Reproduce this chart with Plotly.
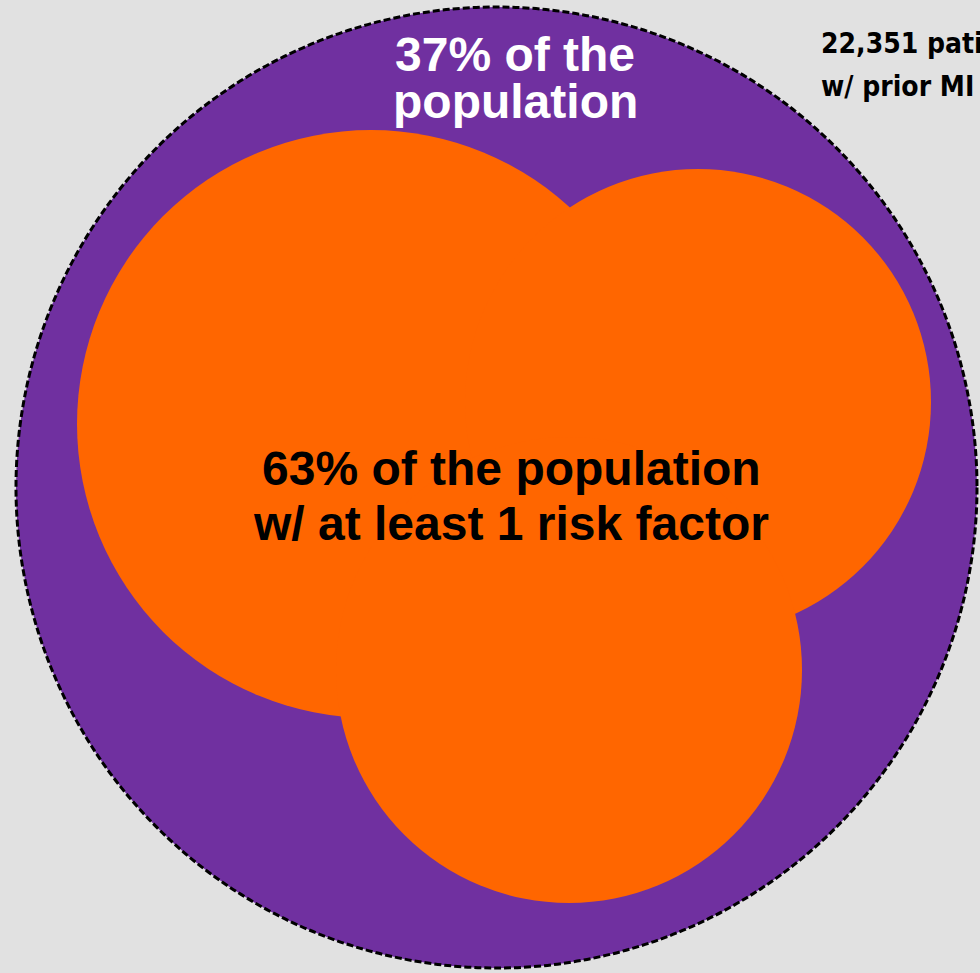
import plotly.graph_objects as go

# ---- data ----
pct_without = 37          # % of population without risk factor
pct_with = 63             # % of population with >=1 risk factor
n_patients = "22,351"
label_outer = [f"{pct_without}% of the", "population"]
label_inner = [f"{pct_with}% of the population", "w/ at least 1 risk factor"]
label_total = [f"{n_patients} patients", "w/ prior MI"]

# ---- layout geometry (pixel space) ----
W, H = 980, 973
outer = dict(cx=496.5, cy=487.5, r=480.5)
inner = [dict(cx=371, cy=424, r=294), dict(cx=698, cy=402, r=233), dict(cx=569, cy=670, r=233)]

PURPLE = "#7030A0"
ORANGE = "#FF6600"
BG = "#E1E1E1"

fig = go.Figure()
fig.add_trace(go.Scatter(x=[0, W], y=[0, H], mode="markers", marker=dict(opacity=0), hoverinfo="skip", showlegend=False))

fig.add_shape(type="circle", xref="x", yref="y",
              x0=outer["cx"] - outer["r"], x1=outer["cx"] + outer["r"],
              y0=outer["cy"] - outer["r"], y1=outer["cy"] + outer["r"],
              fillcolor=PURPLE, line=dict(color="black", width=3, dash="7px,3px"), layer="below")
for c in inner:
    fig.add_shape(type="circle", xref="x", yref="y",
                  x0=c["cx"] - c["r"], x1=c["cx"] + c["r"],
                  y0=c["cy"] - c["r"], y1=c["cy"] + c["r"],
                  fillcolor=ORANGE, line=dict(width=0), layer="below")

bold = "Liberation Sans, Arial, sans-serif"
narrow = "Liberation Sans Narrow, Arial Narrow, DejaVu Sans Condensed, sans-serif"

for txt, y in zip(label_outer, [54, 101]):
    fig.add_annotation(x=515, y=y, xref="x", yref="y", text=f"<b>{txt}</b>", showarrow=False,
                       font=dict(family=bold, size=48, color="white"), xanchor="center", yanchor="middle")
for txt, y in zip(label_inner, [468, 523]):
    fig.add_annotation(x=511, y=y, xref="x", yref="y", text=f"<b>{txt}</b>", showarrow=False,
                       font=dict(family=bold, size=48, color="black"), xanchor="center", yanchor="middle")
for txt, y in zip(label_total, [43, 86]):
    fig.add_annotation(x=819, y=y, xref="x", yref="y", text=f"<b>{txt}</b>", showarrow=False,
                       font=dict(family=narrow, size=28, color="black"), xanchor="left", yanchor="middle")

fig.update_layout(
    width=W, height=H, margin=dict(l=0, r=0, t=0, b=0),
    paper_bgcolor=BG, plot_bgcolor=BG,
    xaxis=dict(range=[0, W], visible=False, fixedrange=True),
    yaxis=dict(range=[H, 0], visible=False, fixedrange=True),
    showlegend=False,
)
fig.write_html("out.html", config={"displayModeBar": False},
               post_script="document.body.style.margin='0';document.body.style.overflow='hidden';")
